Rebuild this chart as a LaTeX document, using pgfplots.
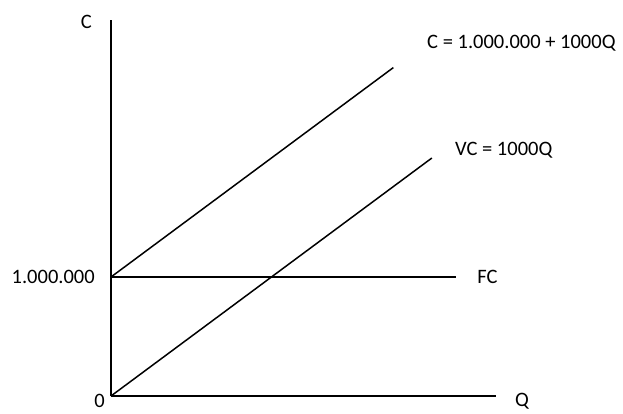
\documentclass[border=0pt]{standalone}
\usepackage{fontspec}
\setmainfont{Carlito}
\usepackage{pgfplots}
\pgfplotsset{compat=1.18}
\newcommand\lbl{\fontsize{20.5}{24}\selectfont}
\tikzset{lab/.style={font=\lbl, inner sep=0pt}}
\begin{document}
\begin{tikzpicture}
\path[use as bounding box] (0,0) rectangle (623pt,413pt);
\begin{axis}[
  at={(111pt,17pt)}, anchor=origin,
  scale only axis, width=385pt, height=376pt,
  xmin=0, xmax=2400, ymin=0, ymax=3.16,
  axis lines=left, axis line style={line width=1.5pt, -},
  xtick=\empty, ytick=\empty,
  clip=false,
]
\addplot[black, line width=1.5pt] coordinates {(0,1) (2150,1)};
\addplot[black, line width=1.5pt] coordinates {(0,0) (2000,2)};
\addplot[black, line width=1.5pt] coordinates {(0,1) (1760,2.76)};
\node[lab, anchor=center] at (axis cs:-153,3.14) {C};
\node[lab, anchor=center] at (axis cs:2562,-0.045) {Q};
\node[lab, anchor=center] at (axis cs:-72,-0.045) {0};
\node[lab, anchor=east] at (axis cs:-100,1) {1.000.000};
\node[lab, anchor=west] at (axis cs:2282,1) {FC};
\node[lab, anchor=west] at (axis cs:2144,2.067) {VC = 1000Q};
\node[lab, anchor=west] at (axis cs:1970,2.966) {C = 1.000.000 + 1000Q};
\end{axis}
\end{tikzpicture}
\end{document}
